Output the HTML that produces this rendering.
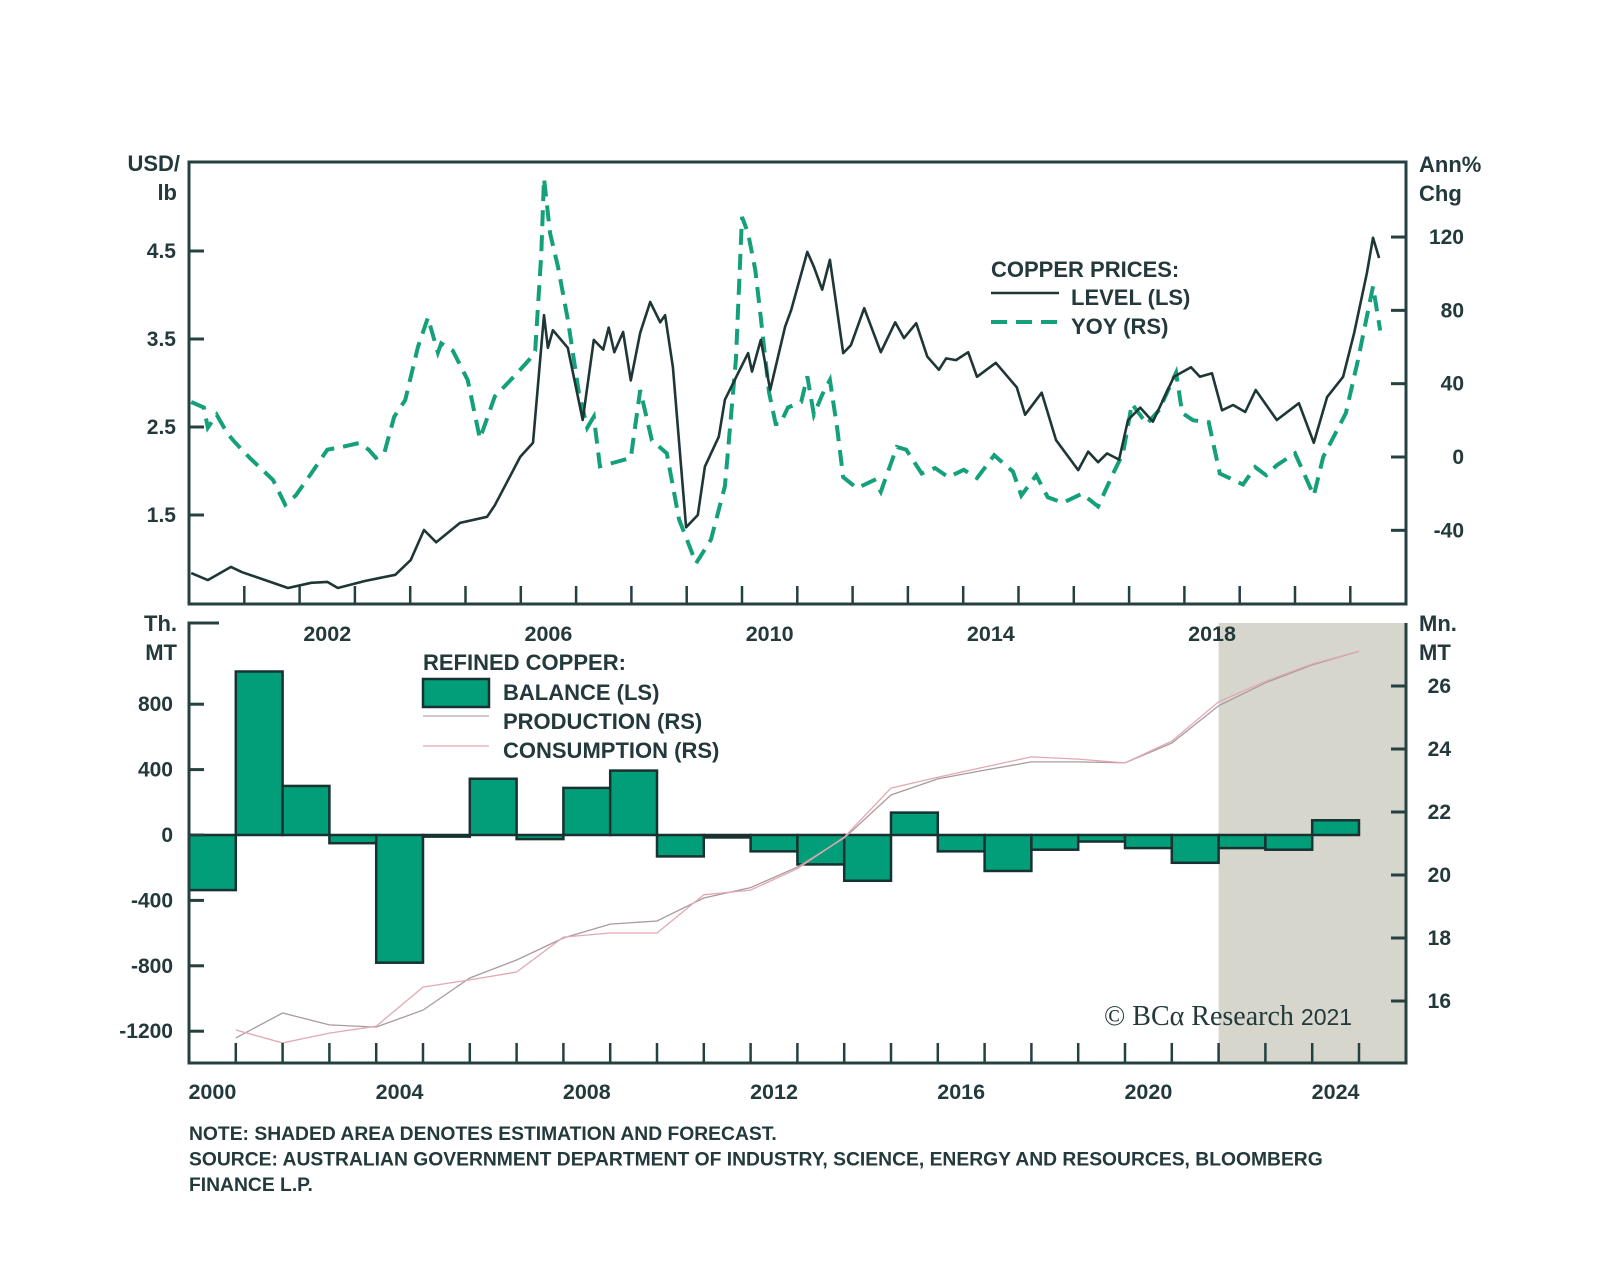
<!DOCTYPE html>
<html><head><meta charset="utf-8">
<style>
html,body{margin:0;padding:0;background:#fff;}
svg{display:block;}
text{font-family:"Liberation Sans",Arial,sans-serif;font-weight:bold;fill:#23393b;}
</style></head>
<body>
<svg id="chart" width="1600" height="1275" viewBox="0 0 1600 1275" xmlns="http://www.w3.org/2000/svg">
</svg>
<script>
// ---- Top panel data (year offset from 2000, value) ----
const levelYears = [0.04,0.34,0.76,0.96,1.79,2.21,2.5,2.69,3.18,3.73,4.01,4.25,4.47,4.9,5.39,5.53,5.99,6.22,6.42,6.49,6.58,6.85,7.12,7.32,7.49,7.59,7.69,7.85,7.99,8.16,8.34,8.52,8.61,8.75,8.99,9.2,9.33,9.58,9.69,10.11,10.18,10.34,10.51,10.78,10.89,11.18,11.3,11.45,11.59,11.83,11.97,12.21,12.51,12.77,12.93,13.15,13.35,13.56,13.69,13.87,14.09,14.25,14.59,14.97,15.12,15.42,15.68,16.08,16.26,16.44,16.6,16.82,16.98,17.2,17.43,17.81,18.12,18.28,18.5,18.68,18.88,19.1,19.29,19.67,20.07,20.34,20.58,20.87,21.07,21.3,21.41,21.52];
const levelValues = [0.84,0.76,0.91,0.85,0.67,0.73,0.74,0.67,0.75,0.82,0.99,1.33,1.19,1.41,1.48,1.61,2.16,2.32,3.77,3.40,3.60,3.40,2.58,3.49,3.38,3.63,3.35,3.58,3.03,3.57,3.92,3.69,3.77,3.18,1.36,1.5,2.05,2.39,2.81,3.34,3.13,3.49,2.92,3.64,3.83,4.49,4.32,4.06,4.40,3.34,3.43,3.85,3.35,3.69,3.51,3.68,3.30,3.15,3.28,3.26,3.35,3.07,3.23,2.95,2.64,2.89,2.35,2.01,2.22,2.10,2.20,2.13,2.58,2.72,2.56,3.07,3.18,3.07,3.11,2.69,2.75,2.67,2.92,2.58,2.77,2.32,2.84,3.07,3.57,4.25,4.65,4.42];
const yoyYears = [0.04,0.27,0.34,0.5,0.69,0.83,1.1,1.52,1.74,1.93,2.21,2.5,2.77,3.07,3.25,3.38,3.53,3.71,3.91,4.14,4.32,4.5,4.56,4.77,5.04,5.26,5.53,5.88,6.15,6.26,6.37,6.42,6.53,6.67,6.85,7.05,7.2,7.32,7.43,7.69,7.99,8.16,8.37,8.64,8.86,9.17,9.44,9.69,9.89,10.0,10.11,10.24,10.34,10.49,10.61,10.69,10.83,11.07,11.18,11.3,11.45,11.59,11.72,11.83,12.08,12.39,12.51,12.8,12.97,13.25,13.49,13.73,14.01,14.25,14.56,14.9,15.05,15.32,15.53,15.8,16.15,16.44,16.71,16.89,17.05,17.32,17.54,17.85,17.96,18.16,18.44,18.64,19.06,19.28,19.48,19.67,20.0,20.34,20.51,20.92,21.14,21.41,21.54];
const yoyValues = [30,27,16,23,13,8,-0.5,-12.6,-26,-21,-9,4,5.5,7.6,4,-0.5,2,22,31,60,76,57,62,58,42,10,33,44,53,58,111,152,122,104,75,35,16,22,-5,-3,-0.5,36.5,9,2,-34,-58,-45,-16,53,131,122,102,76,35,18,18,27,30,44,23,34,42,16,-11,-17,-12.6,-19,5.5,4,-9,-6,-11,-7,-11.5,1,-8,-21,-10,-22,-25,-20,-27,-9,2,29,18,25.6,46,24,20,19,-9,-15,-5.5,-10,-4.5,2,-21,0,24,53,93,69];
const leftTicksTop = [4.5,3.5,2.5,1.5];
const rightTicksTop = [120,80,40,0,-40];
const topYearLabels = [2002,2006,2010,2014,2018];

// ---- Bottom panel data ----
const balanceYears = [2000,2001,2002,2003,2004,2005,2006,2007,2008,2009,2010,2011,2012,2013,2014,2015,2016,2017,2018,2019,2020,2021,2022,2023,2024];
const balanceValues = [-337,1000,300,-50,-781,-10,344,-25,288,394,-131,-15,-100,-180,-280,137,-100,-220,-90,-40,-80,-170,-80,-90,90];
const lineYears = [2001,2002,2003,2004,2005,2006,2007,2008,2009,2010,2011,2012,2013,2014,2015,2016,2017,2018,2019,2020,2021,2022,2023,2024,2025];
const productionValues = [14.83,15.62,15.24,15.17,15.71,16.73,17.3,18.0,18.44,18.54,19.27,19.6,20.25,21.17,22.54,23.05,23.33,23.59,23.59,23.56,24.19,25.37,26.1,26.67,27.1];
const consumptionValues = [15.08,14.67,14.98,15.2,16.44,16.67,16.92,18.03,18.16,18.16,19.37,19.52,20.2,21.2,22.76,23.1,23.43,23.75,23.68,23.56,24.25,25.5,26.15,26.7,27.1];
const leftTicksBottom = [800,400,0,-400,-800,-1200];
const rightTicksBottom = [26,24,22,20,18,16];
const bottomYearLabels = [2000,2004,2008,2012,2016,2020,2024];
const forecastStart = 2022;

const NS = "http://www.w3.org/2000/svg";
const svg = document.getElementById('chart');
const AX = '#24403f';
function mk(tag, attrs, parent){
  const e = document.createElementNS(NS, tag);
  for (const k in attrs) e.setAttribute(k, attrs[k]);
  (parent||svg).appendChild(e);
  return e;
}
function txt(s, attrs, parent){ const t = mk('text', attrs, parent); t.textContent = s; return t; }

const L = 189, R = 1406;
const T1 = 162, B1 = 604;
const T2 = 623, B2 = 1063;
const xTop = y => L + y * 55.3;
const yLevel = v => 251 + (4.5 - v) * 88;
const yYoy = v => 457 - v * 1.833;
const xBot = yr => L + (yr - 2000) * 46.8;
const yBal = v => 835 - v * 0.1635;
const yProd = v => 1001 - (v - 16) * 31.5;

const shade = mk('rect', {x:xBot(forecastStart), y:T2, width:R-xBot(forecastStart), height:B2-T2, fill:'#d6d6cc'});



// ===== Top panel =====
const gTop = mk('g', {});



let d = yoyYears.map((y,i)=>(i?'L':'M')+xTop(y).toFixed(1)+' '+yYoy(yoyValues[i]).toFixed(1)).join(' ');
const yoyPath = mk('path', {d:d, fill:'none', stroke:'#13a07a', 'stroke-width':4, 'stroke-dasharray':'16 9'}, gTop);


d = levelYears.map((y,i)=>(i?'L':'M')+xTop(y).toFixed(1)+' '+yLevel(levelValues[i]).toFixed(1)).join(' ');
const lvlPath = mk('path', {d:d, fill:'none', stroke:'#1e3736', 'stroke-width':2.6, 'stroke-linejoin':'round'}, gTop);



const frame = mk('rect', {x:L, y:T1, width:R-L, height:B1-T1, fill:'none', stroke:AX, 'stroke-width':3}, gTop);


leftTicksTop.forEach(v=>{
  const y = yLevel(v);
  mk('line', {x1:L, x2:L+15, y1:y, y2:y, stroke:AX, 'stroke-width':3}, gTop);
  const t = txt(v.toFixed(1), {x:176, y:y+7, 'font-size':21, 'text-anchor':'end'}, gTop);
  
  
});
rightTicksTop.forEach(v=>{
  const y = yYoy(v);
  mk('line', {x1:R-15, x2:R, y1:y, y2:y, stroke:AX, 'stroke-width':3}, gTop);
  const t = txt(String(v), {x:1464, y:y+7, 'font-size':21, 'text-anchor':'end'}, gTop);
  
  
});
for (let k=1;k<=21;k++){
  const x = xTop(k);
  mk('line', {x1:x, x2:x, y1:B1, y2:B1-18, stroke:AX, 'stroke-width':2.5}, gTop);
}
topYearLabels.forEach(yr=>{
  const t = txt(String(yr), {x:xTop(yr-2000+0.5), y:641, 'font-size':21.5, 'text-anchor':'middle'}, gTop);
  
  
});
let t;
t = txt('USD/', {x:180, y:171, 'font-size':22, 'text-anchor':'end'});  
t = txt('lb', {x:177, y:200, 'font-size':22, 'text-anchor':'end'});  
t = txt('Ann%', {x:1419, y:172, 'font-size':22});  
t = txt('Chg', {x:1419, y:201, 'font-size':22});  

const lg1 = mk('g', {});


txt('COPPER PRICES:', {x:991, y:277, 'font-size':22}, lg1);
mk('line', {x1:991, x2:1059, y1:293, y2:293, stroke:'#1e3736', 'stroke-width':2.6}, lg1);
txt('LEVEL (LS)', {x:1071, y:305, 'font-size':22}, lg1);
mk('line', {x1:991, x2:1059, y1:322, y2:322, stroke:'#13a07a', 'stroke-width':4, 'stroke-dasharray':'16 9'}, lg1);
txt('YOY (RS)', {x:1071, y:334, 'font-size':22}, lg1);

// ===== Bottom panel =====
const gBot = mk('g', {});



balanceYears.forEach((yr,i)=>{
  const v = balanceValues[i];
  const x0 = xBot(yr), x1 = xBot(yr+1);
  const y0 = yBal(Math.max(v,0)), y1 = yBal(Math.min(v,0));
  const b = mk('rect', {x:x0, y:y0, width:x1-x0, height:Math.max(y1-y0,1.5), fill:'#019e79', stroke:'#173230', 'stroke-width':2.5}, gBot);
  
  
});
mk('line', {x1:L, x2:xBot(2025), y1:yBal(0), y2:yBal(0), stroke:'#173230', 'stroke-width':2}, gBot);

d = lineYears.map((yr,i)=>(i?'L':'M')+xBot(yr).toFixed(1)+' '+yProd(productionValues[i]).toFixed(1)).join(' ');
const prod = mk('path', {d:d, fill:'none', stroke:'#a99aa0', 'stroke-width':1.3}, gBot);


d = lineYears.map((yr,i)=>(i?'L':'M')+xBot(yr).toFixed(1)+' '+yProd(consumptionValues[i]).toFixed(1)).join(' ');
const cons = mk('path', {d:d, fill:'none', stroke:'#e2a9b1', 'stroke-width':1.3}, gBot);



mk('path', {d:`M${L+30} ${T2} L${L} ${T2} L${L} ${B2} L${R} ${B2} L${R} ${T2}`, fill:'none', stroke:AX, 'stroke-width':3}, gBot);
leftTicksBottom.forEach(v=>{
  const y = yBal(v);
  mk('line', {x1:L, x2:L+15, y1:y, y2:y, stroke:AX, 'stroke-width':3}, gBot);
  const tt = txt(String(v), {x:173, y:y+7, 'font-size':21, 'text-anchor':'end'}, gBot);
  
  
});
rightTicksBottom.forEach(v=>{
  const y = yProd(v);
  mk('line', {x1:R-15, x2:R, y1:y, y2:y, stroke:AX, 'stroke-width':3}, gBot);
  const tt = txt(String(v), {x:1451, y:y+7, 'font-size':21, 'text-anchor':'end'}, gBot);
  
  
});
for (let yr=2001; yr<=2025; yr++){
  const x = xBot(yr);
  mk('line', {x1:x, x2:x, y1:B2, y2:B2-20, stroke:AX, 'stroke-width':2.5}, gBot);
}
bottomYearLabels.forEach(yr=>{
  const tt = txt(String(yr), {x:xBot(yr+0.5), y:1099, 'font-size':21.5, 'text-anchor':'middle'}, gBot);
  
  
});
t = txt('Th.', {x:177, y:631, 'font-size':22, 'text-anchor':'end'});  
t = txt('MT', {x:177, y:660, 'font-size':22, 'text-anchor':'end'});  
t = txt('Mn.', {x:1419, y:631, 'font-size':22});  
t = txt('MT', {x:1419, y:660, 'font-size':22});  

const lg2 = mk('g', {});


txt('REFINED COPPER:', {x:423, y:670, 'font-size':22}, lg2);
mk('rect', {x:423, y:679, width:66, height:28, fill:'#019e79', stroke:'#173230', 'stroke-width':2.5}, lg2);
txt('BALANCE (LS)', {x:503, y:700, 'font-size':22}, lg2);
mk('line', {x1:423, x2:489, y1:716, y2:716, stroke:'#b8a8ae', 'stroke-width':1.3}, lg2);
txt('PRODUCTION (RS)', {x:503, y:729, 'font-size':22}, lg2);
mk('line', {x1:423, x2:489, y1:746, y2:746, stroke:'#e2a9b1', 'stroke-width':1.3}, lg2);
txt('CONSUMPTION (RS)', {x:503, y:758, 'font-size':22}, lg2);

const cp = mk('text', {x:1104, y:1025, style:'font-family:"Liberation Serif",serif;font-weight:normal;font-size:28px;fill:#23393b;'});
cp.textContent = '© BCα Research ';
const ts = mk('tspan', {style:'font-family:"Liberation Sans",sans-serif;font-size:23px;'}, cp);
ts.textContent = '2021';



const notes = ['NOTE: SHADED AREA DENOTES ESTIMATION AND FORECAST.',
 'SOURCE: AUSTRALIAN GOVERNMENT DEPARTMENT OF INDUSTRY, SCIENCE, ENERGY AND RESOURCES, BLOOMBERG',
 'FINANCE L.P.'];
notes.forEach((s,i)=>{
  const n = txt(s, {x:189, y:1140 + i*25.5, 'font-size':19.3}, svg);
  
  
});
</script>
</body></html>
